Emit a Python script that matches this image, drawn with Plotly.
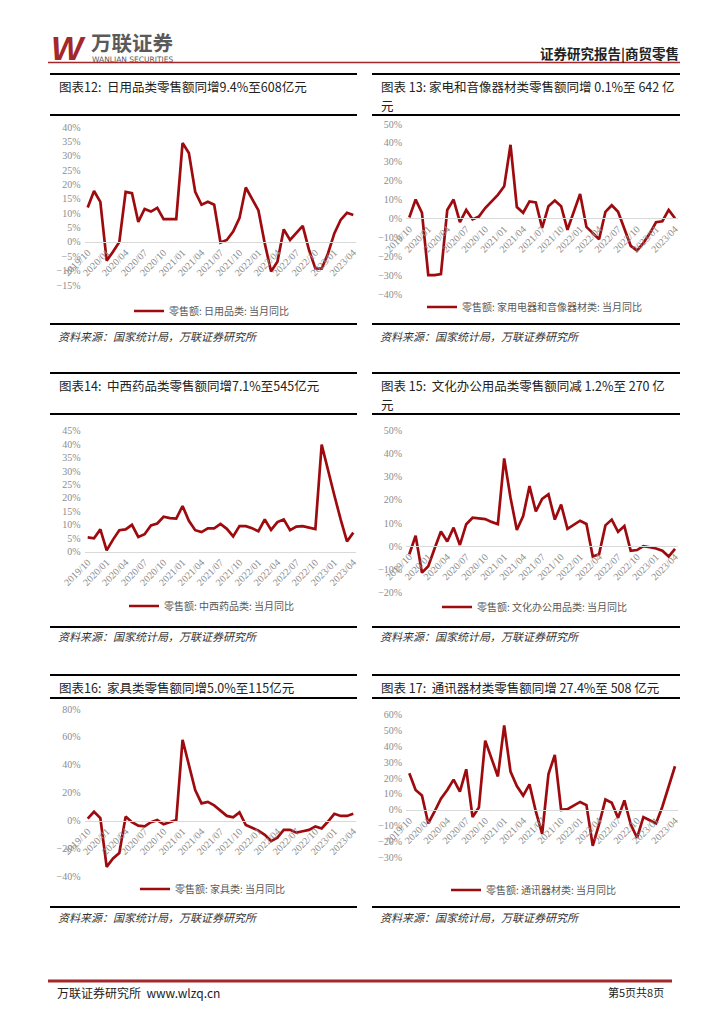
import plotly.graph_objects as go

# ---------------- data ----------------
months = [
    "2019/10", "2019/11", "2019/12",
    "2020/01", "2020/02", "2020/03", "2020/04", "2020/05", "2020/06",
    "2020/07", "2020/08", "2020/09", "2020/10", "2020/11", "2020/12",
    "2021/01", "2021/02", "2021/03", "2021/04", "2021/05", "2021/06",
    "2021/07", "2021/08", "2021/09", "2021/10", "2021/11", "2021/12",
    "2022/01", "2022/02", "2022/03", "2022/04", "2022/05", "2022/06",
    "2022/07", "2022/08", "2022/09", "2022/10", "2022/11", "2022/12",
    "2023/01", "2023/02", "2023/03", "2023/04",
]
tick_labels = ["2019/10", "2020/01", "2020/04", "2020/07", "2020/10", "2021/01", "2021/04",
               "2021/07", "2021/10", "2022/01", "2022/04", "2022/07", "2022/10", "2023/01", "2023/04"]

daily_use = [12, 17.8, 14,
             -6.5, -3.4, 0, 17.5, 17, 7, 11.5, 10.6, 11.9, 8, 8, 8,
             34.5, 31, 17.5, 13, 14, 13, -0.2, 0.7, 3.6, 8.3, 19, 15,
             11, -0.5, -10.3, -6.9, 4.4, 0.7, 3.3, 5.6, -2.8, -9.2, -9.3, -4,
             3, 7.7, 10.2, 9.4]
appliances = [0.5, 10, 3,
              -30, -30, -29.5, 4.5, 10, -2, 4.5, -0.5, 1, 5.5, 9, 12.5,
              17, 39, 6, 3, 9, 8.5, -5, 6.5, 9.5, 6.5, -6, 3.5,
              13, -4.5, -8, -11, 3.5, 7, 3.5, -5.5, -14.5, -17, -13, -8,
              -2, -1.5, 4.5, 0.1]
medicine = [5.3, 5, 8.3,
            0.5, 4.5, 8, 8.3, 10, 5.5, 6.5, 9.8, 10.5, 13, 12.5, 12.3,
            17, 11.5, 8, 7.3, 8.7, 8.7, 10.3, 8.5, 5.7, 9.5, 9.5, 8.7,
            7.6, 12, 8.1, 11, 12, 8, 9.3, 9.5, 9, 8.4, 39.8, 30,
            21, 12, 3.8, 7.1]
office = [-3.5, 4.5, -11.5,
          -8.7, -1, 6.3, 2, 8, 0.5, 9.5, 12.3, 12, 11.7, 10.5, 9.5,
          38, 21, 7, 13, 26, 15, 20.5, 22.5, 11.5, 18, 7.5, 9.3,
          11, 9.6, -4.5, -3.5, 9, 11.5, 6.2, 8.7, -2, -1.7, 0, -0.5,
          -1, -2, -4.5, -1.2]
furniture = [1.5, 6.5, 2,
             -33, -27, -23, 3, -1, -3.5, -4, -1, 0.5, -2.5, -1, 0.5,
             58, 40, 22, 12.5, 13.5, 11, 7, 3.5, 2.5, 6, -3, -5,
             -7, -10, -14.5, -12, -6.5, -6.5, -8.5, -7.5, -6.5, -4, -5.5, -0.5,
             5, 3.5, 3.5, 5]
telecom = [23, 12.5, 9,
           -8.5, -1, 7, 12.5, 19, 11.5, 25.5, -4.5, 1.5, 43.5, 32, 21,
           53, 24, 15, 9, 16, -1, -15, 22.5, 34.5, 0, 0.5, 2.5,
           5, 3, -22.5, -9, 6.5, 4.5, -5, 6, -9, -17.5, -4.5, -6.5,
           -8.5, 2, 14, 27.4]

series_names = ["零售额: 日用品类: 当月同比", "零售额: 家用电器和音像器材类: 当月同比",
                "零售额: 中西药品类: 当月同比", "零售额: 文化办公用品类: 当月同比",
                "零售额: 家具类: 当月同比", "零售额: 通讯器材类: 当月同比"]
series_values = [daily_use, appliances, medicine, office, furniture, telecom]
y_ranges = [(-15, 40, 5), (-40, 50, 10), (0, 45, 5), (-20, 50, 10), (-40, 80, 20), (-30, 60, 10)]

titles_left = ["图表12:  日用品类零售额同增9.4%至608亿元",
               "图表14:  中西药品类零售额同增7.1%至545亿元",
               "图表16:  家具类零售额同增5.0%至115亿元"]
titles_right = [["图表 13: 家电和音像器材类零售额同增 0.1%至 642 亿", "元"],
                ["图表 15:  文化办公用品类零售额同减 1.2%至 270 亿", "元"],
                ["图表 17:  通讯器材类零售额同增 27.4%至 508 亿元"]]
source_text = "资料来源：国家统计局，万联证券研究所"

# ---------------- layout helpers ----------------
W, H = 724, 1024
def px(x):
    return x / W
def py(y):
    return 1 - y / H

LINE_RED = "#9E0B0F"
BRAND_RED = "#A3282B"
CJK = "Noto Sans CJK SC"
TICK_FONT = dict(family="Liberation Serif, " + CJK, size=10, color="#8c8c8c")

# plot geometry per chart: (x first point, x last point, y top tick, y bottom tick, legend x, legend y)
geo = [
    (87.7, 353.3, 127.3, 285.0, 212, 311),
    (409.3, 675.0, 124.0, 294.0, 535, 307),
    (87.7, 353.3, 430.7, 551.7, 212, 606),
    (409.3, 675.0, 430.7, 592.3, 535, 607),
    (87.7, 353.3, 709.0, 876.7, 213, 889),
    (409.3, 675.0, 714.3, 857.7, 534, 890),
]

fig = go.Figure()
n = len(months)
xs = list(range(n))

for i, (vals, name, (ymin, ymax, dt), g) in enumerate(zip(series_values, series_names, y_ranges, geo)):
    k = "" if i == 0 else str(i + 1)
    x0, x1, yt, yb, lx, ly = g
    step = (x1 - x0) / (n - 1)
    pad = 0.5
    dom_x = [px(x0 - pad * step), px(x1 + pad * step)]
    dom_y = [py(yb), py(yt)]
    y_zero = yt + (ymax - 0) / (ymax - ymin) * (yb - yt)
    leg = "legend" if i == 0 else "legend" + str(i + 1)
    fig.add_trace(go.Scatter(
        x=xs, y=vals, mode="lines", name=name,
        line=dict(color=LINE_RED, width=2.7),
        xaxis="x" + k, yaxis="y" + k, legend=leg, showlegend=True,
        hoverinfo="skip",
    ))
    fig.layout["xaxis" + k] = dict(
        domain=dom_x, range=[-pad, n - 1 + pad], anchor="free", position=py(y_zero),
        tickmode="array", tickvals=list(range(0, n, 3)), ticktext=tick_labels,
        tickangle=-45, tickfont=TICK_FONT, showgrid=False, zeroline=False,
        showline=True, linecolor="#d9d9d9", linewidth=1, ticks="", fixedrange=True,
        automargin=False,
    )
    fig.layout["yaxis" + k] = dict(
        domain=dom_y, range=[ymin, ymax], dtick=dt, tick0=0, ticksuffix="%",
        anchor="x" + k, tickfont=TICK_FONT, showgrid=False, zeroline=False,
        showline=False, ticks="", fixedrange=True, ticklabelstandoff=3,
        automargin=False,
    )
    fig.layout[leg] = dict(
        x=px(lx), y=py(ly), xanchor="center", yanchor="middle", orientation="h",
        bgcolor="rgba(0,0,0,0)", borderwidth=0, itemwidth=30,
        font=dict(family=CJK, size=10, color="#595959"),
    )

shapes = []
annotations = []

def hline(y, xa, xb, color="black", width=2):
    shapes.append(dict(type="line", xref="paper", yref="paper", x0=px(xa), x1=px(xb),
                       y0=py(y), y1=py(y), line=dict(color=color, width=width)))

def text(t, x, y, size=12, color="#222", xanchor="left", family=CJK):
    annotations.append(dict(text=t, x=px(x), y=py(y), xref="paper", yref="paper",
                            xanchor=xanchor, yanchor="middle", showarrow=False,
                            font=dict(family=family, size=size, color=color)))

# header
text("<b><i>W</i></b>", 49, 48, size=34, color=BRAND_RED, family="Liberation Sans")
text("<b>万联证券</b>", 89, 41.5, size=20.5, color="#5a5a5a")
text("WANLIAN SECURITIES", 90, 59.5, size=7.5, color="#5a5a5a", family="DejaVu Sans")
text("<b>证券研究报告|商贸零售</b>", 681, 53, size=13.5, color="#222", xanchor="right")
hline(62.5, 48, 680, color=BRAND_RED, width=1.5)

# chart frames
rows = [
    # (top line, title y, title line2 y, title bottom line, chart bottom line, source y)
    (74, 86, 105, 115, 324, 336),
    (373, 385, 404, 414, 627, 636),
    (675, 687, None, 698, 907, 917),
]
for r, (ytop, yt1, yt2, ybot, ychart, ysrc) in enumerate(rows):
    for (xa, xb) in [(50, 357), (372, 680)]:
        hline(ytop, xa, xb)
        hline(ybot, xa, xb)
        hline(ychart, xa, xb)
    text(titles_left[r], 57, yt1, size=12.5)
    rt = titles_right[r]
    text(rt[0], 379, yt1, size=12.5)
    if len(rt) > 1:
        text(rt[1], 379, yt2, size=12.5)
    for xa in (56, 378):
        text("<i>" + source_text + "</i>", xa, ysrc, size=11, color="#333")

# footer
hline(981, 48, 672, color=BRAND_RED, width=3)
text("万联证券研究所  www.wlzq.cn", 55, 992, size=12, color="#222")
text("第5页共8页", 666, 992, size=11, color="#222", xanchor="right")

fig.update_layout(
    width=W, height=H, autosize=False,
    margin=dict(l=0, r=0, t=0, b=0, pad=0, autoexpand=False),
    paper_bgcolor="white", plot_bgcolor="white",
    shapes=shapes, annotations=annotations,
    font=dict(family=CJK),
)

fig.write_html("out.html", config={"displayModeBar": False},
               post_script="document.body.style.margin='0px';document.body.style.padding='0px';")
